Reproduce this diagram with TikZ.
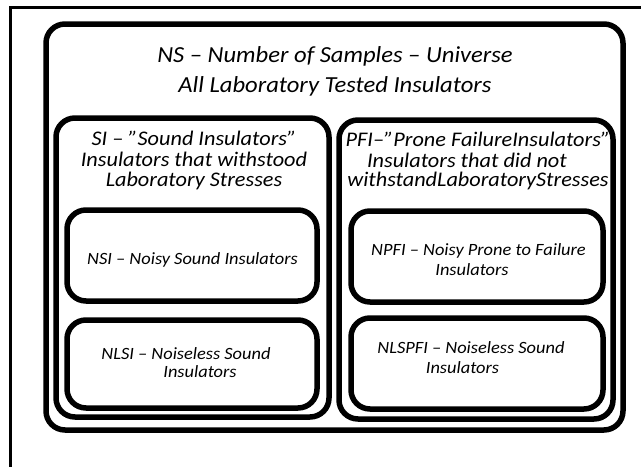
\documentclass[tikz,border=0pt]{standalone}
\usepackage{fontspec}
\setmainfont{Carlito}[FakeStretch=1.07]
\begin{document}
\begin{tikzpicture}[x=1pt,y=-1pt,
  box/.style={draw=black,line width=5.5pt,rounded corners=19pt,inner sep=0pt,outer sep=0pt},
  big/.style={font=\fontsize{23}{26}\selectfont\itshape,anchor=base,inner sep=0pt},
  mid/.style={font=\fontsize{20.8}{23}\selectfont\itshape,anchor=base,inner sep=0pt},
  sml/.style={font=\fontsize{17.2}{19}\selectfont\itshape,anchor=base,inner sep=0pt}]
\useasboundingbox (0,0) rectangle (641,467);
\fill[white] (0,0) rectangle (641,467);
% frame
\coordinate (fr) at (641,7.5);
\coordinate (fc) at (10.5,7.5);
\coordinate (fb) at (10.5,467);
\draw[line width=3pt] (fr) -- (fc) -- (fb);
% boxes
\node[box,minimum width=577pt,minimum height=406pt] (ns) at (334.5,227) {};
\node[box,minimum width=273pt,minimum height=299pt] (si) at (192.5,267.5) {};
\node[box,minimum width=274pt,minimum height=299pt] (pfi) at (476,269.5) {};
\node[box,minimum width=250pt,minimum height=91pt] (nsi) at (192,255.5) {};
\node[box,minimum width=250pt,minimum height=88pt] (nlsi) at (192,364) {};
\node[box,minimum width=252pt,minimum height=91pt] (npfi) at (477,256.5) {};
\node[box,minimum width=252pt,minimum height=91pt] (nlspfi) at (477,363.5) {};
% texts
\node[big] (nsA) at (335,62) {NS -- Number of Samples -- Universe};
\node[big] (nsB) at (335,92) {All Laboratory Tested Insulators};
\node[mid] (siA) at (194,145) {SI -- \char34 Sound Insulators\char34};
\node[mid] (siB) at (194,166) {Insulators that withstood};
\node[mid] (siC) at (194,186) {Laboratory Stresses};
\node[mid] (pfiA) at (478,146) {PFI--\char34 Prone FailureInsulators\char34};
\node[mid] (pfiB) at (467,167) {Insulators that did not};
\node[mid] (pfiC) at (478,186) {withstandLaboratoryStresses};
\node[sml] (nsiA) at (192.5,264) {NSI -- Noisy Sound Insulators};
\node[sml] (nlsiA) at (186,359) {NLSI -- Noiseless Sound};
\node[sml] (nlsiB) at (200,377) {Insulators};
\node[sml] (npfiA) at (478.5,255) {NPFI -- Noisy Prone to Failure};
\node[sml] (npfiB) at (472,275) {Insulators};
\node[sml] (nlspfiA) at (471,353) {NLSPFI -- Noiseless Sound};
\node[sml] (nlspfiB) at (462.5,373) {Insulators};
\end{tikzpicture}
\end{document}
